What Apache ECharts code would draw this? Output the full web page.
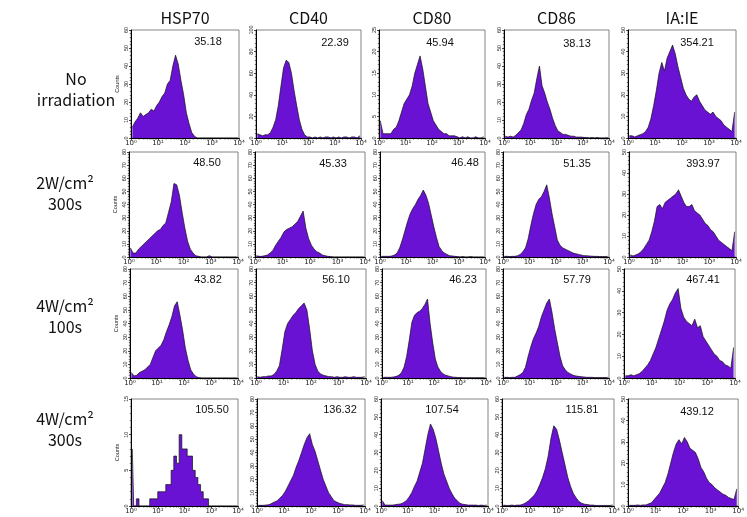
<!DOCTYPE html>
<html><head><meta charset="utf-8">
<script src="https://cdn.jsdelivr.net/npm/echarts@6/dist/echarts.min.js"></script>
<style>html,body{margin:0;padding:0;background:#fff}#c{width:747px;height:517px}</style>
</head><body><div id="c"></div>
<script>
// ---------- DATA ----------
const markers = ['HSP70', 'CD40', 'CD80', 'CD86', 'IA:IE'];
const conditions = ['No\nirradiation', '2W/cm²\n300s', '4W/cm²\n100s', '4W/cm²\n300s'];

// bin centres in log10(fluorescence), 10^0 .. 10^4
const logBins = [0.05,0.15,0.25,0.35,0.45,0.55,0.65,0.75,0.85,0.95,
                 1.05,1.15,1.25,1.35,1.45,1.55,1.65,1.75,1.85,1.95,
                 2.05,2.15,2.25,2.35,2.45,2.55,2.65,2.75,2.85,2.95,
                 3.05,3.15,3.25,3.35,3.45,3.55,3.65,3.75,3.85,3.95];
const xTickLabels = ['10⁰', '10¹', '10²', '10³', '10⁴'];
const minorLogs = [0.301, 0.477, 0.602, 0.699, 0.778, 0.845, 0.903, 0.954];

// mean fluorescence shown in each panel
const meansNoIrr  = ['35.18', '22.39', '45.94', '38.13', '354.21'];
const means2W300  = ['48.50', '45.33', '46.48', '51.35', '393.97'];
const means4W100  = ['43.82', '56.10', '46.23', '57.79', '467.41'];
const means4W300  = ['105.50', '136.32', '107.54', '115.81', '439.12'];

// y axis maxima / tick steps
const yMaxNoIrr = [60, 100, 25, 60, 50];   const yStepNoIrr = [10, 20, 5, 10, 10];
const yMax2W300 = [80, 80, 80, 80, 50];    const yStep2W300 = [10, 10, 10, 10, 10];
const yMax4W100 = [80, 80, 80, 80, 50];    const yStep4W100 = [10, 10, 10, 10, 10];
const yMax4W300 = [15, 80, 60, 60, 50];    const yStep4W300 = [5, 10, 10, 10, 10];

// counts per bin
const hsp70_noIrr = [6,9,11,14,12,13,14,16,15,18, 20,23,25,30,32,40,46,41,32,24, 14,8,3,1,0,0,0,0,0,0, 0,0,0,0,0,0,0,0,0,0];
const cd40_noIrr  = [4,3,2,3,3,5,10,17,30,48, 65,72,70,60,44,30,17,8,3,1, 1,0,1,0,1,0,1,1,0,1, 0,1,0,1,1,0,1,1,0,2];
const cd80_noIrr  = [4,1,1,1,1,2,2.5,4,6,8, 9,10,12,15,17,19,16,12,8,6, 4,3,2,1.5,1,1,0.5,0.5,0.5,0.3, 0,0.3,0,0.3,0,0,0.3,0,0,0.3];
const cd86_noIrr  = [1,0.5,1,0.5,1.5,3,4.5,8,13,16, 21,25,33,40,29,25,20,16,11,7, 4,3,2,2,1.5,1,1,0.5,0.5,0.5, 0.3,0.3,0,0.3,0,0.3,0,0,0,0.3];
const iaie_noIrr  = [1,1,0.5,1,1.5,2,3,5,9,15, 22,30,35,31,37,40,43,39,33,28, 23,20,18,17,19,20,17,15,13,12, 11,12,10,9,8,6,5,4,3,12];

const hsp70_2W300 = [7,3,3,6,8,10,12,14,16,18, 20,21,24,26,34,42,56,55,47,34, 22,12,6,3,1,0.5,0,0,0,1, 0,0,0,0,0,0,0,0,0,0];
const cd40_2W300  = [1,0.5,0.5,1,1.5,3,5,9,12,15, 19,21,22,23,25,27,31,35,22,14, 9,6,4,3,1.5,1,0.5,0.3,0,0, 0,0,0,0,0,0,0,0,0,0];
const cd80_2W300  = [0.5,0.5,0.5,0.5,0.8,1.5,3,7,13,20, 27,33,37,40,44,47,51,47,41,32, 23,15,8,5,3,2,1,0.8,0.5,0.3, 0,0.3,0,0,0.3,0,0,0,0,0];
const cd86_2W300  = [0.5,0.5,0.3,0.5,0.5,1,2,4,7,14, 24,33,40,44,46,50,55,45,33,23, 13,9,7,6,5,4,3,2.5,2,1.5, 1,1,0.8,0.6,0.5,0.5,0.3,0.3,0.3,0.5];
const iaie_2W300  = [1,0.5,1,1.5,2.5,4,6,8,12,17, 24,25,23,26,27,28,29,30,32,29, 26,24,24,25,22,21,20,18,16,15, 13,12,10,8,7,6,5,4,3,12];

const hsp70_4W100 = [4,1.5,2,4,5,6,8,10,15,20, 22,24,28,34,39,45,53,56,46,35, 22,13,6,3,1,0.3,0,0,0,0, 0,0,0,0,0,0,0,0,0,0];
const cd40_4W100  = [1,0.5,1,1,1.5,1.5,2.5,5,9,21, 34,40,43,46,48,51,53,55,50,36, 20,10,5,3,2,1.5,1,1,0.5,1, 0.5,0.5,1,0.5,0.5,1,0.5,0.5,0.5,1];
const cd80_4W100  = [0.5,0.5,0.5,0.5,0.8,1.2,2,4,8,16, 28,41,46,48,49,51,54,58,40,26, 14,8,5,3,2,1.5,1,0.6,0.5,0.3, 0.3,0.2,0.2,0.2,0.2,0.2,0.2,0.2,0.2,0.2];
const cd86_4W100  = [0.5,0.5,0.3,0.5,0.5,1.5,2.5,4,8,16, 23,29,33,38,45,50,55,58,48,36, 26,16,9,6,4,3,2,1.5,1.2,1, 0.8,0.5,0.5,0.5,0.3,0.3,0.3,0.3,0.3,0.5];
const iaie_4W100  = [1,1,1.5,1,1.5,2,3,4.5,6,8, 11,14,18,22,26,31,34,36,39,41, 32,28,26,25,24,27,23,24,19,17, 15,13,11,10,8,7.5,6,5.5,4.5,14];

const hsp70_4W300 = [8,0,1,0,0,0,0,1,1,1, 2,2,2,3,3,5,7,6,10,8, 8,7,7,5,4,3,2,1,1,0, 0,0,0,0,0,0,0,0,0,0];
const cd40_4W300  = [0.5,0.5,0.5,0.8,1,2,3,4,6,8, 11,15,19,23,29,34,40,46,51,54, 46,41,34,27,20,15,10,7,4,3, 2,1.5,1,1,0.8,0.8,0.5,0.5,0.5,0.8];
const cd80_4W300  = [3,0.5,0.5,0.5,0.5,0.8,1,1.2,2,3, 5,7.5,11,14,19,24,32,40,46,43, 38,31,24,18,14,10,7,4.5,3,1.5, 1,0.8,0.5,0.5,0.5,0.5,0.3,0.5,0.3,0.5];
const cd86_4W300  = [0.5,0.3,0.3,0.5,0.3,0.5,0.5,1,1.8,3, 4.5,6,8.5,12,16,21,28,38,45,43, 37,30,23,16,11,7,4.5,2.5,1.5,1, 0.8,0.5,0.5,0.3,0.3,0.3,0.3,0.3,0.3,0.5];
const iaie_4W300  = [0.3,0.3,0.3,0.5,0.3,0.5,0.5,1,1.5,3, 4.5,6,8.5,11,15,20,25,29,31,29, 32,30,27,26,25,22,18,16,13,11, 10,8.5,7.5,6.5,5.5,5,4,3.5,3,8];

const panelCounts = [
  [hsp70_noIrr, cd40_noIrr, cd80_noIrr, cd86_noIrr, iaie_noIrr],
  [hsp70_2W300, cd40_2W300, cd80_2W300, cd86_2W300, iaie_2W300],
  [hsp70_4W100, cd40_4W100, cd80_4W100, cd86_4W100, iaie_4W100],
  [hsp70_4W300, cd40_4W300, cd80_4W300, cd86_4W300, iaie_4W300]
];
const panelMeans = [meansNoIrr, means2W300, means4W100, means4W300];
const panelYMax = [yMaxNoIrr, yMax2W300, yMax4W100, yMax4W300];
const panelYStep = [yStepNoIrr, yStep2W300, yStep4W100, yStep4W300];

// ---------- LAYOUT ----------
const rowBounds = [[30, 138], [152, 257], [269, 378], [399, 506]];
const colBounds = [
  [[131,239],[256,361],[379,485],[504,609],[628,736]],
  [[129,238],[255,365],[380,485],[503,609],[629,736]],
  [[130,238],[256,366],[382,486],[503,609],[624,735]],
  [[131,238],[257,365],[381,488],[502,614],[628,740]]
];
const meanPos = [
  [[208,42],[335,43],[440,43],[577,44],[697,43]],
  [[207,163],[333,164],[465,163],[577,164],[703,164]],
  [[208,280],[336,280],[463,280],[577,280],[703,280]],
  [[212,410],[340,410],[442,410],[582,410],[697,412]]
];
const rowLabelPos = [[76, 89], [65, 193], [65, 316], [65, 429]];

const minorTickVals = [];
for (let d = 0; d < 4; d++) minorLogs.forEach(m => minorTickVals.push([d + m]));

const grids = [], xAxes = [], yAxes = [], series = [], graphics = [];
for (let r = 0; r < 4; r++) {
  for (let c = 0; c < 5; c++) {
    const idx = r * 5 + c;
    const [l, rt] = colBounds[r][c];
    const [t, b] = rowBounds[r];
    grids.push({left: l, top: t, width: rt - l, height: b - t, show: true,
      borderColor: '#666', borderWidth: 0.8, backgroundColor: '#fff'});
    xAxes.push({gridIndex: idx, type: 'value', min: 0, max: 4, interval: 1,
      axisLine: {show: true, onZero: false, lineStyle: {color: '#000', width: 1}},
      axisTick: {show: true, length: 2.5, lineStyle: {color: '#000', width: 0.7}},
      axisLabel: {fontSize: 7, margin: 2, color: '#222', fontFamily: 'DejaVu Sans',
        formatter: v => xTickLabels[Math.round(v)]},
      splitLine: {show: false}});
    const step = panelYStep[r][c];
    yAxes.push({gridIndex: idx, type: 'value', min: 0, max: panelYMax[r][c], interval: step,
      axisLine: {show: true, onZero: false, lineStyle: {color: '#000', width: 1}},
      axisTick: {show: true, length: 2, lineStyle: {color: '#000', width: 0.7}},
      minorTick: {show: true, splitNumber: 5, length: 1.2, lineStyle: {color: '#000', width: 0.5}},
      axisLabel: {rotate: 90, fontSize: 5.5, margin: 2, color: '#222', fontFamily: 'Liberation Sans'},
      splitLine: {show: false},
      name: c === 0 ? 'Counts' : '', nameLocation: 'middle', nameGap: 11,
      nameTextStyle: {fontSize: 5.5, color: '#222', fontFamily: 'Liberation Sans'}});
    const counts = panelCounts[r][c];
    series.push({type: 'line', xAxisIndex: idx, yAxisIndex: idx,
      data: logBins.map((x, i) => [x, counts[i]]),
      symbol: 'none', step: (r === 3 && c === 0) ? 'middle' : false,
      lineStyle: {color: '#111', width: 0.7},
      areaStyle: {color: '#6a12d4', opacity: 1},
      silent: true, animation: false, z: 2});
    series.push({type: 'custom', xAxisIndex: idx, yAxisIndex: idx,
      data: minorTickVals, encode: {x: 0},
      renderItem: (p, api) => {
        const pt = api.coord([api.value(0), 0]);
        return {type: 'line', shape: {x1: pt[0], y1: pt[1], x2: pt[0], y2: pt[1] + 1.6},
          style: {stroke: '#000', lineWidth: 0.6}};
      }, silent: true, animation: false, z: 5});
    graphics.push({type: 'text', x: meanPos[r][c][0], y: meanPos[r][c][1], z: 10,
      style: {text: panelMeans[r][c], fill: '#111', font: '11px "Liberation Sans"',
        align: 'center', verticalAlign: 'middle'}});
  }
}
markers.forEach((m, c) => {
  const [l, rt] = colBounds[0][c];
  graphics.push({type: 'text', x: (l + rt) / 2, y: 18, z: 10,
    style: {text: m, fill: '#111', font: '16px "Noto Sans CJK KR"', align: 'center', verticalAlign: 'middle'}});
});
conditions.forEach((t, r) => {
  graphics.push({type: 'text', x: rowLabelPos[r][0], y: rowLabelPos[r][1], z: 10,
    style: {text: t, fill: '#111', font: '16px "Noto Sans CJK KR"', lineHeight: 21,
      align: 'center', verticalAlign: 'middle'}});
});

const chart = echarts.init(document.getElementById('c'), null, {renderer: 'canvas'});
chart.setOption({animation: false, backgroundColor: '#fff',
  grid: grids, xAxis: xAxes, yAxis: yAxes, series: series, graphic: graphics});
</script></body></html>
